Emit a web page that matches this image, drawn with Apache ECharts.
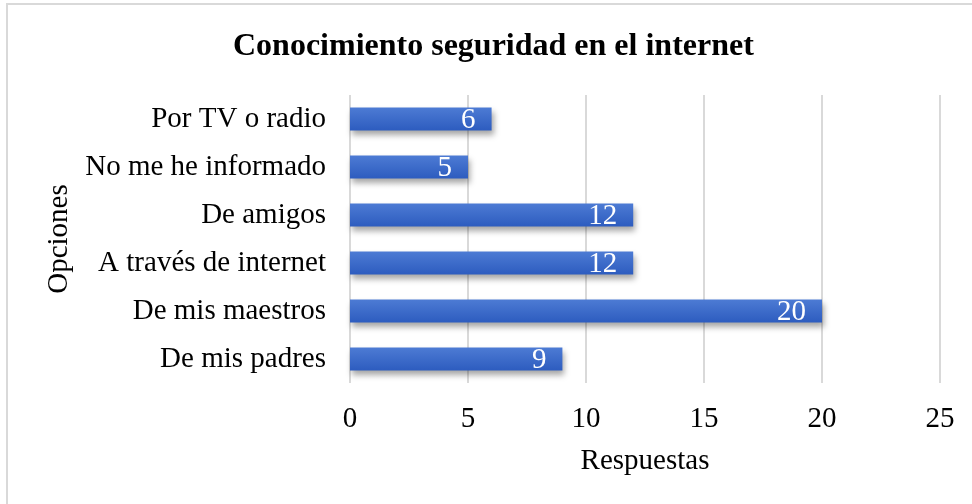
<!DOCTYPE html>
<html>
<head>
<meta charset="utf-8">
<script src="https://cdn.jsdelivr.net/npm/echarts@6/dist/echarts.min.js"></script>
<style>
  html, body { margin: 0; padding: 0; background: #fff; }
  #chart { width: 972px; height: 504px; }
</style>
</head>
<body>
<div id="chart"></div>
<script>
// categories from bottom to top (as in the picture)
const categorias = ['De mis padres', 'De mis maestros', 'A través de internet', 'De amigos', 'No me he informado', 'Por TV o radio'];
const respuestas = [9, 20, 12, 12, 5, 6];

const chart = echarts.init(document.getElementById('chart'));
const fuente = '"Liberation Serif", "Times New Roman", serif';

const option = {
  backgroundColor: '#fff',
  animation: false,
  title: {
    text: 'Conocimiento seguridad en el internet',
    left: 228,
    top: 26,
    textStyle: { fontFamily: fuente, fontWeight: 'bold', fontSize: 32, color: '#000' }
  },
  graphic: [
    {
      type: 'rect',
      shape: { x: 7, y: 4, width: 990, height: 530 },
      style: { fill: 'none', stroke: '#d9d9d9', lineWidth: 2 },
      silent: true
    }
  ],
  grid: { left: 350, right: 32, top: 95, bottom: 121 },
  xAxis: {
    type: 'value',
    min: 0,
    max: 25,
    interval: 5,
    name: 'Respuestas',
    nameLocation: 'middle',
    nameGap: 64,
    nameTextStyle: { fontFamily: fuente, fontSize: 29, color: '#000' },
    axisLine: { show: false },
    axisTick: { show: false },
    axisLabel: { fontFamily: fuente, fontSize: 29, color: '#000', margin: 22 },
    splitLine: { lineStyle: { color: '#d9d9d9', width: 2 } }
  },
  yAxis: {
    type: 'category',
    data: categorias,
    name: 'Opciones',
    nameLocation: 'middle',
    nameGap: 273,
    nameRotate: 90,
    nameTextStyle: { fontFamily: fuente, fontSize: 29, color: '#000' },
    axisLine: { show: false },
    axisTick: { show: false },
    axisLabel: { fontFamily: fuente, fontSize: 29, color: '#000', margin: 24 }
  },
  series: [
    {
      type: 'bar',
      data: respuestas,
      barWidth: 23,
      itemStyle: {
        color: new echarts.graphic.LinearGradient(0, 0, 0, 1, [
          { offset: 0, color: '#4d7bd4' },
          { offset: 1, color: '#2d5cbf' }
        ]),
        shadowColor: 'rgba(0,0,0,0.35)',
        shadowBlur: 6,
        shadowOffsetX: 2,
        shadowOffsetY: 4
      },
      label: {
        show: true,
        position: 'insideRight',
        distance: 16,
        offset: [0, 1],
        color: '#fff',
        fontFamily: fuente,
        fontSize: 29
      }
    }
  ]
};

chart.setOption(option);
</script>
</body>
</html>
